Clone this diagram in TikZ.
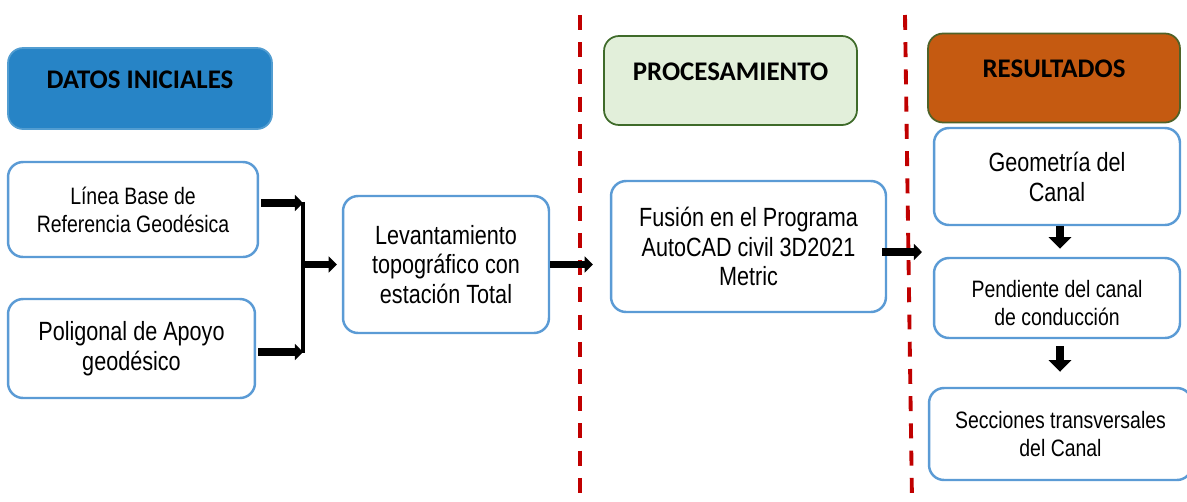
\documentclass[tikz,border=0pt]{standalone}
\usepackage{fontspec}
\usepackage{xcolor}
\usepackage{tikz}
\usetikzlibrary{arrows.meta}
\newfontfamily\narrowfont[FakeStretch=0.82]{Liberation Sans}
\newfontfamily\titlefont{Carlito}
\definecolor{boxblue}{HTML}{5B9BD5}
\definecolor{datosblue}{HTML}{2784C6}
\definecolor{procgreen}{HTML}{E2EFDA}
\definecolor{procline}{HTML}{3F6B2A}
\definecolor{resorange}{HTML}{C55A11}
\definecolor{resline}{HTML}{4F6228}
\definecolor{linered}{HTML}{C00000}
\newcommand{\bigtext}{\narrowfont\fontsize{15}{17}\selectfont}
\newcommand{\smalltext}{\narrowfont\fontsize{13.5}{16}\selectfont}
\tikzstyle{box}=[fill=white, draw=boxblue, line width=1.4pt, rounded corners=0.3cm, align=center, font=\bigtext]
\tikzstyle{small box}=[box, font=\smalltext]
\tikzstyle{title}=[line width=1pt, rounded corners=0.3cm, font=\titlefont\bfseries\fontsize{15.3}{17}\selectfont, text height=10pt, text depth=10.5pt]
\tikzstyle{arrow edge}=[-{Triangle[length=4.6pt, width=9pt]}, line width=4pt]
\tikzstyle{down edge}=[-{Triangle[length=6.6pt, width=12.5pt]}, line width=4.7pt]
\tikzstyle{bar edge}=[-, line width=2.8pt]
\tikzstyle{red line}=[draw=linered, line width=2.2pt, dash pattern=on 8.5pt off 7pt]
\pgfdeclarelayer{nodelayer}
\pgfdeclarelayer{edgelayer}
\pgfsetlayers{nodelayer,edgelayer}
\begin{document}
\begin{tikzpicture}[x=0.02cm, y=-0.02cm]
	\useasboundingbox (0, 0) rectangle (1187, 501);
	\begin{pgfonlayer}{nodelayer}
		\node [style=title, fill=datosblue, draw=datosblue!80!white, minimum width=5.28cm, minimum height=1.62cm] (0) at (140, 88.5) {DATOS INICIALES};
		\node [style=small box, minimum width=5cm, minimum height=1.9cm] (1) at (133, 209.5) {Línea Base de\\Referencia Geodésica};
		\node [style=box, minimum width=4.94cm, minimum height=1.98cm] (2) at (131.5, 348.5) {Poligonal de Apoyo\\geodésico};
		\node [style=box, minimum width=4.12cm, minimum height=2.74cm] (3) at (446, 264.5) {Levantamiento\\topográfico con\\estación Total};
		\node [style=title, fill=procgreen, draw=procline, minimum width=5.06cm, minimum height=1.78cm] (4) at (730.5, 80.5) {PROCESAMIENTO};
		\node [style=box, minimum width=5.5cm, minimum height=2.62cm] (5) at (748.5, 246.5) {Fusión en el Programa\\AutoCAD civil 3D2021\\Metric};
		\node [style=title, fill=resorange, draw=resline, minimum width=5.04cm, minimum height=1.78cm] (6) at (1054, 78) {RESULTADOS};
		\node [style=box, minimum width=4.92cm, minimum height=1.94cm] (7) at (1057, 176.5) {Geometría del\\Canal};
		\node [style=small box, minimum width=4.92cm, minimum height=1.6cm, text height=31.5pt, text depth=0pt] (8) at (1057, 298) {Pendiente del canal\\de conducción};
		\node [style=small box, minimum width=5.26cm, minimum height=1.84cm] (9) at (1060.5, 434) {Secciones transversales\\del Canal};
		\coordinate (10) at (303, 203);
		\coordinate (11) at (303, 352);
		\coordinate (12) at (922, 252);
	\end{pgfonlayer}
	\begin{pgfonlayer}{edgelayer}
		\draw [style=red line] (580, 15) -- (580, 501);
		\draw [style=red line] (905, 15) -- (912, 501);
		\draw [style=bar edge] ([yshift=0.7pt]10) -- ([yshift=-0.7pt]11);
		\draw [style=arrow edge, shorten <=0.04cm] (1.east |- 10) -- (10);
		\draw [style=arrow edge, shorten <=0.04cm] (2.east |- 11) -- (11);
		\draw [style=arrow edge, shorten >=0.1cm] (10 |- 3.west) -- (3.west);
		\draw [style=arrow edge, shorten >=0.34cm] (3.east) -- (3.east -| 5.west);
		\draw [style=arrow edge, shorten <=-0.1cm] (5.east |- 12) -- (12);
		\draw [style=down edge, shorten >=0.16cm] (7.south -| 1060, 0) -- (8.north -| 1060, 0);
		\draw [style=down edge, shorten <=0.14cm, shorten >=0.3cm] (8.south -| 1060, 0) -- (9.north -| 1060, 0);
	\end{pgfonlayer}
\end{tikzpicture}
\end{document}
